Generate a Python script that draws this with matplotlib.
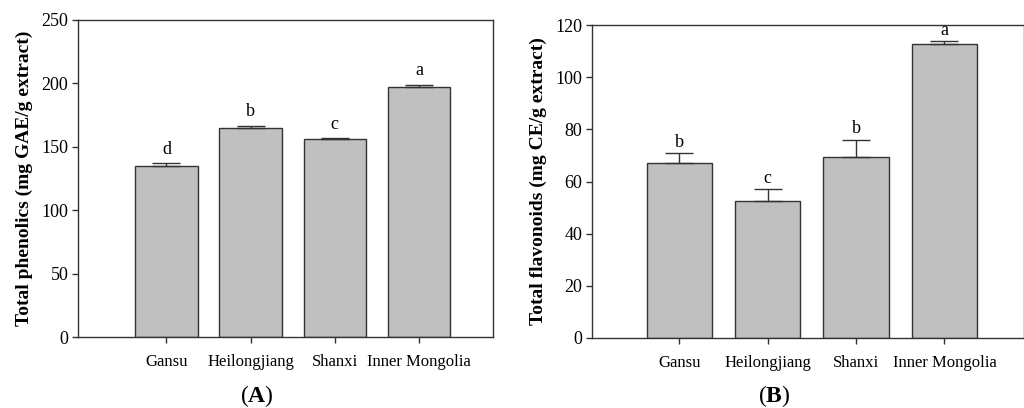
import matplotlib
matplotlib.use('Agg')
import matplotlib.pyplot as plt
import numpy as np

plt.rcParams['font.family'] = 'Liberation Serif'
plt.rcParams['mathtext.fontset'] = 'custom'
plt.rcParams['mathtext.rm'] = 'Liberation Serif'
plt.rcParams['mathtext.bf'] = 'Liberation Serif:bold'

# data
regions = ['Gansu', 'Heilongjiang', 'Shanxi', 'Inner Mongolia']
phenolics = [135.1, 164.8, 155.9, 197.2]
phenolics_err = [2.0, 1.8, 0.8, 1.8]
phenolics_letters = ['d', 'b', 'c', 'a']
flavonoids = [67.2, 52.4, 69.4, 112.9]
flavonoids_err = [3.6, 4.6, 6.6, 0.8]
flavonoids_letters = ['b', 'c', 'b', 'a']

edge = '#333333'
fill = '#c0c0c0'

fig = plt.figure(figsize=(10.24, 4.08), dpi=100)
axA = fig.add_axes([0.0762, 0.174, 0.4053, 0.777])
axB = fig.add_axes([0.578, 0.1716, 0.422, 0.767])


def draw(ax, vals, errs, letters, ylim, yticks, ylabel, xlim, gap, panel, px):
    x = np.arange(len(regions))
    ax.bar(x, vals, width=0.74, color=fill, edgecolor=edge, linewidth=1.0, zorder=2)
    ax.errorbar(x, vals, yerr=[np.zeros(len(vals)), errs], fmt='none',
                ecolor=edge, elinewidth=1.0, capsize=10, capthick=1.0, zorder=3)
    for xi, v, e, l in zip(x, vals, errs, letters):
        ax.annotate(l, (xi, v + e), xytext=(0, gap), textcoords='offset points',
                    ha='center', va='bottom', fontsize=13)
    ax.set_ylim(*ylim)
    ax.set_yticks(yticks)
    ax.set_xlim(*xlim)
    ax.set_xticks(x)
    ax.set_xticklabels(regions, fontsize=12)
    ax.tick_params(axis='both', direction='out', length=4, width=1, color=edge,
                   labelsize=13, pad=3)
    ax.tick_params(axis='x', pad=8, labelsize=12)
    ax.set_ylabel(ylabel, fontsize=14, fontweight='bold', labelpad=6)
    for s in ax.spines.values():
        s.set_color(edge)
        s.set_linewidth(1.0)
    fig.text(px, 0.03, r'($\mathbf{' + panel + r'}$)', ha='center', va='center', fontsize=17)


draw(axA, phenolics, phenolics_err, phenolics_letters, (0, 250), range(0, 251, 50),
     'Total phenolics (mg GAE/g extract)', (-1.05, 3.88), 4, 'A', 257 / 1024)
draw(axB, flavonoids, flavonoids_err, flavonoids_letters, (0, 120), range(0, 121, 20),
     'Total flavonoids (mg CE/g extract)', (-0.99, 3.9), 2, 'B', 774 / 1024)

fig.savefig('out.png', dpi=100)
